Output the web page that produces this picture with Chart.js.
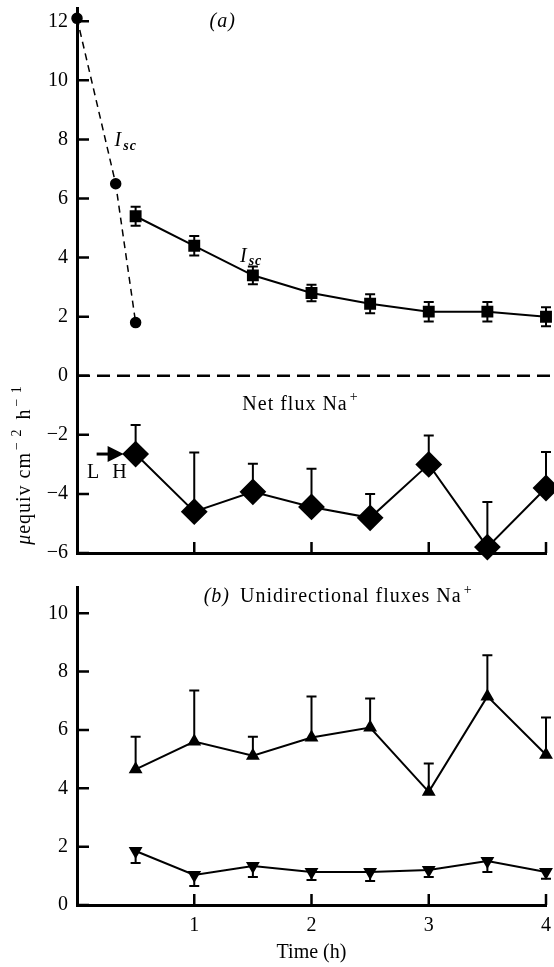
<!DOCTYPE html>
<html>
<head>
<meta charset="utf-8">
<script src="https://cdn.jsdelivr.net/npm/chart.js@4.4.0/dist/chart.umd.min.js"></script>
<style>
  html, body { margin: 0; padding: 0; background: #fff; }
  #wrap { position: relative; width: 554px; height: 967px; }
  #chartA { position: absolute; left: 0; top: 0; }
  #chartB { position: absolute; left: 0; top: 575px; }
</style>
</head>
<body>
<div id="wrap">
  <canvas id="chartA" width="554" height="575"></canvas>
  <canvas id="chartB" width="554" height="392"></canvas>
</div>
<script>
// time points (h)
const times = [0.5, 1, 1.5, 2, 2.5, 3, 3.5, 4];
// early short-circuit current, dashed curve
const iscEarlyTimes = [0, 0.33, 0.5];
const iscEarly = [12.1, 6.5, 1.8];
// (a) Isc, squares
const iscValues = [5.4, 4.4, 3.4, 2.8, 2.44, 2.17, 2.17, 2.0];
const iscErr = [0.32, 0.33, 0.3, 0.28, 0.32, 0.33, 0.33, 0.32];
// (a) net flux Na+, diamonds (error bar up only)
const netFlux = [-2.65, -4.6, -3.93, -4.44, -4.81, -3.0, -5.8, -3.8];
const netFluxErr = [0.98, 2.0, 0.95, 1.29, 0.81, 0.98, 1.53, 1.22];
// (b) unidirectional fluxes Na+
const fluxUp = [4.65, 5.6, 5.12, 5.74, 6.08, 3.88, 7.15, 5.15];
const fluxUpErr = [1.12, 1.75, 0.65, 1.41, 1.0, 0.97, 1.41, 1.28];
const fluxDown = [1.85, 1.03, 1.34, 1.13, 1.13, 1.2, 1.51, 1.13];
const fluxDownErr = [0.41, 0.38, 0.38, 0.27, 0.31, 0.24, 0.38, 0.23];
// tick labels
const yTicksA = [-6, -4, -2, 0, 2, 4, 6, 8, 10, 12];
const yTicksB = [0, 2, 4, 6, 8, 10];
const xTicks = [1, 2, 3, 4];

const SERIF = "'Liberation Serif', 'Times New Roman', serif";
Chart.defaults.font.family = SERIF;
Chart.defaults.font.size = 20;
Chart.defaults.color = "#000";

function pts(xs, ys) {
  return xs.map((x, i) => ({ x: x, y: ys[i] }));
}

function minus(v) {
  return v < 0 ? "\u2212" + Math.abs(v) : String(v);
}

// draws a run of text pieces with their own font and offset
function drawParts(ctx, x, y, parts) {
  ctx.letterSpacing = "1px";
  parts.forEach((p) => {
    ctx.font = p.font;
    ctx.fillText(p.t, x, y + (p.dy || 0));
    x += ctx.measureText(p.t).width + (p.gap || 0);
  });
}
function partsWidth(ctx, parts) {
  ctx.letterSpacing = "1px";
  let w = 0;
  parts.forEach((p) => {
    ctx.font = p.font;
    w += ctx.measureText(p.t).width + (p.gap || 0);
  });
  return w;
}

const errorBars = {
  id: "errorBars",
  afterDatasetsDraw(chart) {
    const ctx = chart.ctx;
    const yScale = chart.scales.y;
    ctx.save();
    ctx.strokeStyle = "#000";
    ctx.lineWidth = 2;
    chart.data.datasets.forEach((ds, i) => {
      if (!ds.errPlus && !ds.errMinus) return;
      const meta = chart.getDatasetMeta(i);
      meta.data.forEach((pt, j) => {
        const v = ds.data[j].y;
        const top = ds.errPlus ? yScale.getPixelForValue(v + ds.errPlus[j]) : pt.y;
        const bot = ds.errMinus ? yScale.getPixelForValue(v - ds.errMinus[j]) : pt.y;
        ctx.beginPath();
        ctx.moveTo(pt.x, top);
        ctx.lineTo(pt.x, bot);
        if (ds.errPlus) {
          ctx.moveTo(pt.x - 5, top);
          ctx.lineTo(pt.x + 5, top);
        }
        if (ds.errMinus) {
          ctx.moveTo(pt.x - 5, bot);
          ctx.lineTo(pt.x + 5, bot);
        }
        ctx.stroke();
      });
    });
    ctx.restore();
  },
};

// tick marks pointing into the plot
const innerTicks = {
  id: "innerTicks",
  afterDraw(chart) {
    const { ctx, chartArea, scales } = chart;
    ctx.save();
    ctx.strokeStyle = "#000";
    ctx.lineWidth = 2.5;
    ctx.beginPath();
    scales.y.ticks.forEach((t) => {
      const py = scales.y.getPixelForValue(t.value);
      ctx.moveTo(chartArea.left, py);
      ctx.lineTo(chartArea.left + 12, py);
    });
    xTicks.forEach((v) => {
      const px = scales.x.getPixelForValue(v);
      ctx.moveTo(px, chartArea.bottom);
      ctx.lineTo(px, chartArea.bottom - 11);
    });
    ctx.stroke();
    ctx.restore();
  },
};

const annotA = {
  id: "annotA",
  beforeDatasetsDraw(chart) {
    const { ctx, chartArea, scales } = chart;
    ctx.save();
    ctx.strokeStyle = "#000";
    ctx.lineWidth = 2.5;
    ctx.setLineDash([13, 7]);
    const y0 = scales.y.getPixelForValue(0);
    ctx.beginPath();
    ctx.moveTo(chartArea.left, y0);
    ctx.lineTo(chartArea.right + 8, y0);
    ctx.stroke();
    ctx.restore();
  },
  afterDraw(chart) {
    const { ctx, scales } = chart;
    const x = scales.x, y = scales.y;
    ctx.save();
    ctx.fillStyle = "#000";
    ctx.textBaseline = "middle";
    ctx.textAlign = "left";
    const it = "italic 20px " + SERIF;
    const rm = "20px " + SERIF;
    const sub = "bold italic 14px " + SERIF;
    const sup = "14px " + SERIF;

    drawParts(ctx, x.getPixelForValue(1.13), y.getPixelForValue(12.0), [{ t: "(a)", font: it }]);
    drawParts(ctx, x.getPixelForValue(0.32), y.getPixelForValue(7.95), [
      { t: "I", font: it, gap: 1 },
      { t: "sc", font: sub, dy: 5 },
    ]);
    drawParts(ctx, x.getPixelForValue(1.39), y.getPixelForValue(4.03), [
      { t: "I", font: it, gap: 1 },
      { t: "sc", font: sub, dy: 5 },
    ]);
    drawParts(ctx, x.getPixelForValue(1.41), y.getPixelForValue(-0.98), [
      { t: "Net flux Na", font: rm, gap: 2 },
      { t: "+", font: sup, dy: -7 },
    ]);
    drawParts(ctx, x.getPixelForValue(0.085), y.getPixelForValue(-3.29), [{ t: "L", font: rm }]);
    drawParts(ctx, x.getPixelForValue(0.3), y.getPixelForValue(-3.29), [{ t: "H", font: rm }]);

    // arrow pointing to the first net-flux point
    const tipX = x.getPixelForValue(times[0]) - 12;
    const ay = y.getPixelForValue(netFlux[0]);
    ctx.strokeStyle = "#000";
    ctx.lineWidth = 3;
    ctx.beginPath();
    ctx.moveTo(tipX - 27, ay);
    ctx.lineTo(tipX - 14, ay);
    ctx.stroke();
    ctx.beginPath();
    ctx.moveTo(tipX, ay);
    ctx.lineTo(tipX - 16, ay - 8);
    ctx.lineTo(tipX - 16, ay + 8);
    ctx.closePath();
    ctx.fill();

    // shared y axis title
    const title = [
      { t: "\u03bc", font: it },
      { t: "equiv cm", font: rm, gap: 2 },
      { t: "\u2212 2", font: sup, dy: -8, gap: 3 },
      { t: " h", font: rm, gap: 2 },
      { t: "\u2212 1", font: sup, dy: -8 },
    ];
    ctx.translate(25, 465);
    ctx.rotate(-Math.PI / 2);
    drawParts(ctx, -partsWidth(ctx, title) / 2, 0, title);
    ctx.restore();
  },
};

const annotB = {
  id: "annotB",
  afterDraw(chart) {
    const { ctx, scales } = chart;
    ctx.save();
    ctx.fillStyle = "#000";
    ctx.textBaseline = "middle";
    ctx.textAlign = "left";
    drawParts(ctx, scales.x.getPixelForValue(1.08), scales.y.getPixelForValue(10.55), [
      { t: "(b)", font: "italic 20px " + SERIF, gap: 10 },
      { t: "Unidirectional fluxes Na", font: "20px " + SERIF, gap: 2 },
      { t: "+", font: "14px " + SERIF, dy: -7 },
    ]);
    ctx.restore();
  },
};

function yScale(min, max, ticks) {
  return {
    type: "linear",
    min: min,
    max: max,
    afterBuildTicks: (s) => {
      s.ticks = ticks.map((v) => ({ value: v }));
    },
    afterFit: (s) => {
      s.width = 77;
      s.paddingTop = 0;
      s.paddingBottom = 0;
    },
    grid: { display: false, drawTicks: false },
    border: { display: true, width: 3, color: "#000" },
    ticks: { padding: 9, color: "#000", callback: (v) => minus(v) },
  };
}

const baseOpts = {
  responsive: false,
  animation: false,
  events: [],
  plugins: { legend: { display: false }, tooltip: { enabled: false } },
};

new Chart(document.getElementById("chartA"), {
  type: "line",
  data: {
    datasets: [
      {
        data: pts(iscEarlyTimes, iscEarly),
        borderColor: "#000",
        borderWidth: 1.5,
        borderDash: [7, 5],
        pointStyle: "circle",
        pointRadius: 5,
        pointBackgroundColor: "#000",
        pointBorderColor: "#000",
        clip: false,
      },
      {
        data: pts(times, iscValues),
        borderColor: "#000",
        borderWidth: 2,
        pointStyle: "rect",
        pointRadius: 7,
        pointBackgroundColor: "#000",
        pointBorderColor: "#000",
        errPlus: iscErr,
        errMinus: iscErr,
        clip: false,
      },
      {
        data: pts(times, netFlux),
        borderColor: "#000",
        borderWidth: 2,
        pointStyle: "rectRot",
        pointRadius: 12,
        pointBackgroundColor: "#000",
        pointBorderColor: "#000",
        errPlus: netFluxErr,
        clip: false,
      },
    ],
  },
  options: Object.assign({}, baseOpts, {
    layout: { autoPadding: false, padding: { top: 8, right: 8, left: 0, bottom: 0 } },
    scales: {
      x: {
        type: "linear",
        min: 0,
        max: 4,
        afterFit: (s) => {
          s.height = 22;
          s.paddingLeft = 0;
          s.paddingRight = 0;
        },
        grid: { display: false, drawTicks: false },
        border: { display: true, width: 3, color: "#000" },
        ticks: { display: false, stepSize: 1 },
      },
      y: yScale(-6, 12.45, yTicksA),
    },
  }),
  plugins: [annotA, errorBars, innerTicks],
});

new Chart(document.getElementById("chartB"), {
  type: "line",
  data: {
    datasets: [
      {
        data: pts(times, fluxUp),
        borderColor: "#000",
        borderWidth: 2,
        pointStyle: "triangle",
        pointRadius: 6,
        pointBackgroundColor: "#000",
        pointBorderColor: "#000",
        errPlus: fluxUpErr,
        clip: false,
      },
      {
        data: pts(times, fluxDown),
        borderColor: "#000",
        borderWidth: 2,
        pointStyle: "triangle",
        pointRotation: 180,
        pointRadius: 6,
        pointBackgroundColor: "#000",
        pointBorderColor: "#000",
        errMinus: fluxDownErr,
        clip: false,
      },
    ],
  },
  options: Object.assign({}, baseOpts, {
    layout: { autoPadding: false, padding: { top: 12, right: 8, left: 0, bottom: 0 } },
    scales: {
      x: {
        type: "linear",
        min: 0,
        max: 4,
        afterBuildTicks: (s) => {
          s.ticks = xTicks.map((v) => ({ value: v }));
        },
        afterFit: (s) => {
          s.height = 62;
          s.paddingLeft = 0;
          s.paddingRight = 0;
        },
        grid: { display: false, drawTicks: false },
        border: { display: true, width: 3, color: "#000" },
        ticks: { padding: 9, maxRotation: 0, autoSkip: false, color: "#000" },
        title: {
          display: true,
          text: "Time (h)",
          color: "#000",
          font: { size: 20, family: SERIF },
          padding: { top: 0, bottom: 2 },
        },
      },
      y: yScale(0, 10.9, yTicksB),
    },
  }),
  plugins: [annotB, errorBars, innerTicks],
});
</script>
</body>
</html>
